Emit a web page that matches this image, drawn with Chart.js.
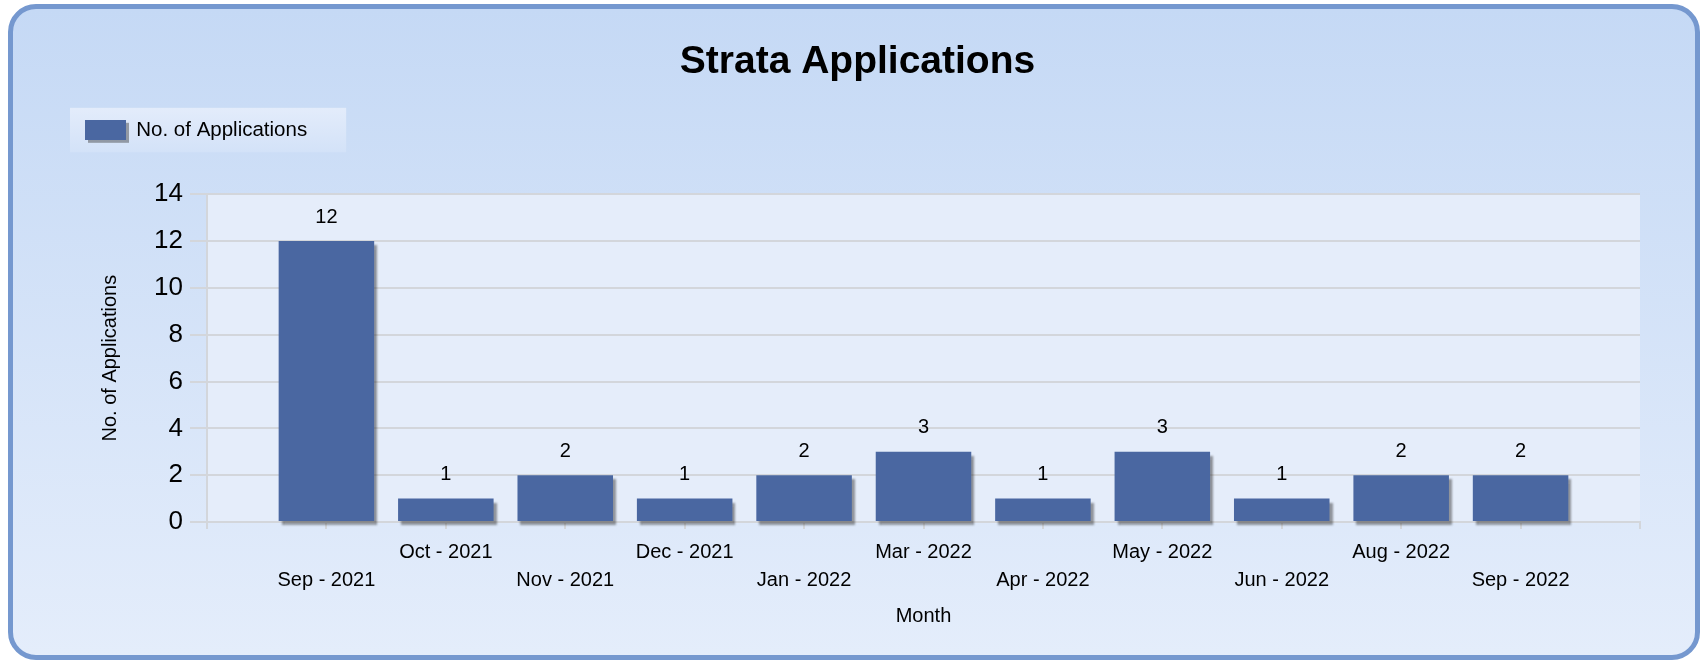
<!DOCTYPE html>
<html>
<head>
<meta charset="utf-8">
<title>Strata Applications</title>
<script src="https://cdn.jsdelivr.net/npm/chart.js@4.4.1/dist/chart.umd.min.js"></script>
<style>
  html, body { margin: 0; padding: 0; background: #ffffff; }
  #frame {
    position: absolute; left: 8px; top: 4px; width: 1682px; height: 646px;
    border: 5px solid #7598cf; border-radius: 28px;
    background: linear-gradient(#c5d9f5, #e4edfb);
  }
  #chart { position: absolute; left: 0; top: 0; }
</style>
</head>
<body>
<div id="frame"></div>
<canvas id="chart" width="1705" height="662"></canvas>
<script>
// data
const months = ['Sep - 2021', 'Oct - 2021', 'Nov - 2021', 'Dec - 2021', 'Jan - 2022', 'Mar - 2022',
                'Apr - 2022', 'May - 2022', 'Jun - 2022', 'Aug - 2022', 'Sep - 2022'];
const applications = [12, 1, 2, 1, 2, 3, 1, 3, 1, 2, 2];
const yMax = 14;
const yStep = 2;

const FONT = "'Liberation Sans', Arial, sans-serif";
const BAR = '#4a67a1';
const GRID = '#d3d6db';

// an empty slot on each side of the months, like the original axis
const labels = ['', ...months, ''];
const values = [null, ...applications, null];

// soft shadow under the bars
const barShadow = {
  id: 'barShadow',
  beforeDatasetsDraw(chart) {
    const ctx = chart.ctx;
    ctx.save();
    ctx.shadowColor = 'rgba(40,40,40,0.45)';
    ctx.shadowOffsetX = 3;
    ctx.shadowOffsetY = 4;
    ctx.shadowBlur = 2;
  },
  afterDatasetsDraw(chart) {
    chart.ctx.restore();
  }
};

// plot background and the box behind the legend
const backgrounds = {
  id: 'backgrounds',
  beforeInit(chart) {
    // leave room between the legend and the plot
    const fit = chart.legend.fit;
    chart.legend.fit = function () {
      fit.call(this);
      this.height += 44;
    };
  },
  beforeDraw(chart) {
    const ctx = chart.ctx;
    const a = chart.chartArea;
    ctx.save();
    ctx.fillStyle = '#e5edfa';
    ctx.fillRect(a.left, a.top, a.right - a.left, a.bottom - a.top);

    const hb = chart.legend.legendHitBoxes[0];
    if (hb) {
      const x = hb.left - 15, y = hb.top - 12, w = hb.width + 54, h = hb.height + 24;
      const g = ctx.createLinearGradient(0, y, 0, y + h);
      g.addColorStop(0, '#e3ecfb');
      g.addColorStop(1, '#d3e2f8');
      ctx.fillStyle = g;
      ctx.fillRect(x, y, w, h);
      ctx.fillStyle = 'rgba(60,60,60,0.45)';
      ctx.fillRect(hb.left + 3, hb.top + 3, 41, 20);
    }
    ctx.restore();
  }
};

// value above each bar
const valueLabels = {
  id: 'valueLabels',
  afterDatasetsDraw(chart) {
    const ctx = chart.ctx;
    const meta = chart.getDatasetMeta(0);
    ctx.save();
    ctx.font = '20px ' + FONT;
    ctx.fillStyle = '#000';
    ctx.textAlign = 'center';
    ctx.textBaseline = 'middle';
    meta.data.forEach((bar, i) => {
      const v = values[i];
      if (v === null) return;
      ctx.fillText(String(v), bar.x, bar.y - 24);
    });
    ctx.restore();
  }
};

new Chart(document.getElementById('chart'), {
  type: 'bar',
  data: {
    labels: labels,
    datasets: [{
      label: 'No. of Applications',
      data: values,
      backgroundColor: BAR,
      borderWidth: 0,
      categoryPercentage: 1,
      barPercentage: 0.8,
      clip: false
    }]
  },
  options: {
    responsive: false,
    animation: false,
    events: [],
    layout: { padding: { left: 75, right: 65, top: 0, bottom: 0 } },
    plugins: {
      title: {
        display: true,
        text: 'Strata Applications',
        color: '#000',
        font: { family: FONT, size: 39, weight: 'bold' },
        padding: { top: 39, bottom: 24 }
      },
      legend: {
        display: true,
        align: 'start',
        labels: {
          color: '#000',
          font: { family: FONT, size: 20.5 },
          boxWidth: 41,
          boxHeight: 20,
          padding: 10
        }
      },
      tooltip: { enabled: false }
    },
    scales: {
      x: {
        offset: false,
        grid: { display: true, drawOnChartArea: false, offset: false, tickLength: 7, color: GRID, lineWidth: 2 },
        border: { display: true, color: GRID, width: 2 },
        ticks: {
          autoSkip: false,
          maxRotation: 0,
          minRotation: 0,
          padding: 9,
          color: '#000',
          font: { family: FONT, size: 20, lineHeight: 1.4 },
          callback: function (value, index) {
            const lab = this.getLabelForValue(value);
            if (!lab) return '';
            return index % 2 === 1 ? ['', lab] : [lab];
          }
        },
        title: {
          display: true,
          text: 'Month',
          color: '#000',
          font: { family: FONT, size: 20 },
          padding: { top: 0, bottom: 34 }
        },
        afterFit(scale) { scale.height = 140; }
      },
      y: {
        min: 0,
        max: yMax,
        grid: { color: GRID, lineWidth: 2, tickLength: 17 },
        border: { display: true, color: GRID, width: 2 },
        ticks: {
          stepSize: yStep,
          padding: 7,
          color: '#000',
          font: { family: FONT, size: 26 }
        },
        title: {
          display: true,
          text: 'No. of Applications',
          color: '#000',
          font: { family: FONT, size: 20 },
          padding: { top: 23, bottom: 0 }
        },
        afterFit(scale) { scale.width = 132; }
      }
    }
  },
  plugins: [barShadow, backgrounds, valueLabels]
});
</script>
</body>
</html>
